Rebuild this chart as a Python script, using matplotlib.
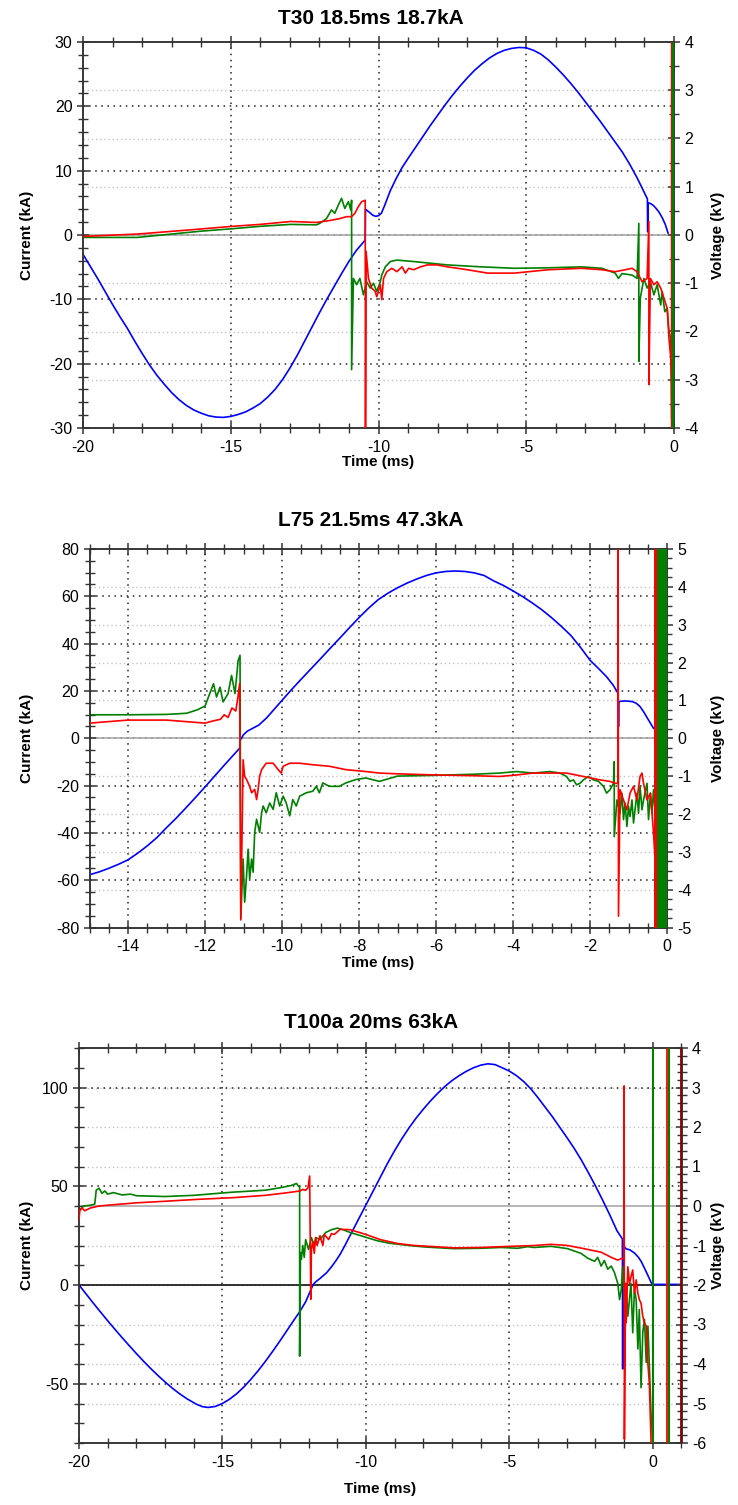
import matplotlib
matplotlib.use("Agg")
import matplotlib.pyplot as plt
from matplotlib.ticker import MultipleLocator

plt.rcParams['font.family'] = ['Liberation Sans', 'DejaVu Sans']
plt.rcParams['axes.unicode_minus'] = False

# ---------------- T30 18.5ms 18.7kA ----------------
# current (kA), left axis
t30_blue_t = [-20, -19.75, -19.5, -19.25, -19, -18.75, -18.5, -18.25, -18, -17.75, -17.5, -17.25, -17,
              -16.75, -16.5, -16.25, -16, -15.75, -15.5, -15.25, -15, -14.75, -14.5, -14.25, -14, -13.75,
              -13.5, -13.25, -13, -12.75, -12.5, -12.25, -12, -11.75, -11.5, -11.25, -11, -10.75, -10.45,
              -10.44, -10.3, -10.2, -10.1, -10.0, -9.9, -9.8, -9.6, -9.4, -9.2, -9.0, -8.75, -8.5, -8.25,
              -8, -7.75, -7.5, -7.25, -7, -6.75, -6.5, -6.25, -6, -5.75, -5.5, -5.25, -5, -4.75, -4.5,
              -4.25, -4, -3.75, -3.5, -3.25, -3, -2.75, -2.5, -2.25, -2, -1.75, -1.5, -1.25, -1.1, -0.9,
              -0.89, -0.88, -0.8, -0.7, -0.6, -0.5, -0.4, -0.3, -0.2]
t30_blue_i = [-3.0, -4.9, -6.8, -8.8, -10.8, -12.7, -14.5, -16.5, -18.4, -20.2, -21.8, -23.2, -24.5,
              -25.6, -26.5, -27.2, -27.7, -28.1, -28.3, -28.35, -28.2, -27.9, -27.5, -26.9, -26.2, -25.2,
              -24.0, -22.5, -20.7, -18.7, -16.5, -14.3, -12.1, -10.0, -8.0, -6.0, -4.1, -2.4, -0.8,
              4.0, 3.5, 3.1, 2.9, 3.0, 3.4, 4.5, 6.9, 8.8, 10.5, 11.9, 13.6, 15.3, 17.0,
              18.6, 20.2, 21.7, 23.1, 24.4, 25.6, 26.6, 27.5, 28.2, 28.7, 29.0, 29.15, 29.1, 28.7, 28.1,
              27.2, 26.1, 24.9, 23.6, 22.2, 20.7, 19.2, 17.7, 16.1, 14.5, 12.9, 11.0, 8.9, 7.5, 5.6,
              0.5, 5.0, 4.9, 4.6, 4.1, 3.5, 2.7, 1.7, 0.3]
# voltages (kV), right axis
t30_green_t = [-20, -18.15, -17, -16, -14.94, -14, -12.97, -12.1, -11.99, -11.76, -11.59, -11.48, -11.36, -11.25,
               -11.14, -11.02, -10.94, -10.91, -10.91, -10.85, -10.74, -10.63, -10.51, -10.40, -10.28, -10.17,
               -10.06, -9.94, -9.89, -9.77, -9.60, -9.38, -8.81, -7.67, -6.53, -5.40, -4.26, -3.13, -2.44,
               -1.99, -1.88, -1.76, -1.42, -1.25, -1.19, -1.19, -1.14, -1.02, -0.91, -0.80, -0.68, -0.57,
               -0.45, -0.40, -0.31, -0.23, -0.17, -0.11, -0.08, -0.03]
t30_green_v = [-0.05, -0.05, 0.02, 0.08, 0.13, 0.18, 0.22, 0.21, 0.24, 0.34, 0.52, 0.45, 0.62, 0.76,
               0.55, 0.69, 0.52, 0.72, -2.79, -0.90, -1.03, -0.90, -1.24, -0.97, -1.10, -1.00,
               -1.17, -0.97, -0.83, -0.66, -0.55, -0.52, -0.55, -0.62, -0.66, -0.69, -0.68, -0.66, -0.69,
               -0.79, -0.90, -0.80, -0.83, -0.90, 0.24, -2.62, -1.31, -0.90, -1.10, -0.97, -1.24, -1.03,
               -1.45, -1.17, -1.59, -1.52, -2.00, -2.14, -3.80, -4.00]
t30_red_t = [-20, -18.15, -16.5, -14.94, -14, -12.97, -12.1, -11.65, -11.31, -11.08, -10.91, -10.80, -10.68,
             -10.57, -10.45, -10.44, -10.42, -10.34, -10.23, -10.11, -10.06, -9.94, -9.89, -9.83, -9.72,
             -9.55, -9.38, -9.20, -9.09, -8.98, -8.81, -8.58, -8.35, -8.01, -7.67, -6.99, -6.31, -5.40,
             -4.26, -3.13, -2.44, -1.99, -1.65, -1.42, -1.25, -1.08, -0.91, -0.85, -0.85, -0.80, -0.68,
             -0.57, -0.45, -0.34, -0.23, -0.17, -0.11, -0.07]
t30_red_v = [-0.03, 0.02, 0.10, 0.18, 0.22, 0.28, 0.26, 0.30, 0.34, 0.38, 0.38, 0.45, 0.59,
             0.69, 0.72, -4.0, -0.34, -0.90, -1.10, -1.17, -1.28, -1.03, -1.34, -0.90, -0.76,
             -0.69, -0.76, -0.66, -0.79, -0.69, -0.72, -0.66, -0.62, -0.62, -0.66, -0.72, -0.79, -0.79,
             -0.72, -0.69, -0.72, -0.76, -0.72, -0.69, -0.76, -0.97, -0.90, 0.28, -3.10, -0.90, -1.03,
             -0.97, -1.10, -1.31, -1.52, -2.14, -2.55, -3.10]
t30_red_sat = [-0.07]
t30_green_sat = [-0.03]

# ---------------- L75 21.5ms 47.3kA ----------------
l75_blue_t = [-15, -14.75, -14.5, -14.25, -14, -13.75, -13.5, -13.25, -13, -12.75, -12.5, -12.25, -12,
              -11.75, -11.5, -11.25, -11.1, -11.09, -11.0, -10.9, -10.75, -10.6, -10.4, -10.2, -10, -9.75,
              -9.5, -9.25, -9, -8.75, -8.5, -8.25, -8, -7.75, -7.5, -7.25, -7, -6.75, -6.5, -6.25, -6,
              -5.75, -5.5, -5.25, -5, -4.75, -4.5, -4.25, -4, -3.75, -3.5, -3.25, -3, -2.75, -2.5, -2.25,
              -2, -1.75, -1.57, -1.4, -1.27, -1.26, -1.25, -1.1, -0.9, -0.8, -0.7, -0.6, -0.48, -0.35]
l75_blue_i = [-57.7, -56.5, -55.0, -53.3, -51.4, -48.6, -45.5, -42.0, -37.8, -33.8, -29.5, -25.1, -20.6,
              -16.0, -11.4, -6.9, -4.2, -1.0, 1.5, 3.0, 4.3, 5.6, 8.6, 12.3, 16.0, 20.6,
              25.0, 29.3, 33.6, 38.0, 42.3, 46.7, 51.0, 55.0, 58.6, 61.3, 63.6, 65.6, 67.3, 68.8, 69.9,
              70.5, 70.7, 70.5, 69.9, 68.8, 66.5, 64.6, 62.3, 59.9, 57.2, 54.3, 51.0, 47.4, 43.5, 38.5,
              33.0, 29.0, 26.0, 22.5, 19.0, 4.9, 15.5, 15.8, 15.5, 14.8, 13.4, 11.0, 7.7, 4.2]
l75_green_t = [-15, -14, -13, -12.48, -12.2, -12, -11.78, -11.70, -11.61, -11.53, -11.40, -11.31, -11.22,
               -11.14, -11.09, -11.07, -11.01, -10.97, -10.92, -10.88, -10.84, -10.79, -10.75, -10.71,
               -10.66, -10.58, -10.53, -10.49, -10.41, -10.32, -10.23, -10.15, -10.06, -9.97, -9.89, -9.80,
               -9.72, -9.63, -9.54, -9.37, -9.20, -9.11, -9.03, -8.94, -8.77, -8.51, -8.34, -8.08, -7.82,
               -7.47, -7, -6, -5, -4.35, -3.91, -3.48, -3.04, -2.78, -2.61, -2.52, -2.43, -2.35, -2.26,
               -2.17, -2.04, -1.91, -1.78, -1.65, -1.57, -1.48, -1.39, -1.37, -1.37, -1.30, -1.22, -1.17,
               -1.13, -1.09, -1.04, -1.00, -0.96, -0.91, -0.87, -0.78, -0.74, -0.70, -0.65, -0.61, -0.52,
               -0.48, -0.43, -0.39, -0.35, -0.30]
l75_green_v = [0.62, 0.62, 0.63, 0.66, 0.75, 0.85, 1.44, 1.09, 1.35, 0.96, 1.18, 1.66, 1.18,
               2.05, 2.19, -4.76, -3.19, -4.33, -3.63, -2.93, -3.72, -3.19, -3.54, -2.49,
               -2.14, -2.49, -1.97, -1.79, -1.97, -1.71, -1.88, -1.44, -1.79, -1.53, -1.71, -2.05,
               -1.62, -1.79, -1.53, -1.44, -1.40, -1.27, -1.44, -1.18, -1.27, -1.27, -1.18, -1.09, -1.05,
               -1.14, -1.00, -0.98, -0.95, -0.92, -0.88, -0.92, -0.88, -0.92, -1.01, -1.14, -1.10, -1.23, -1.19,
               -1.10, -1.01, -1.10, -1.14, -1.27, -1.45, -1.36, -1.19, -0.62, -2.60, -1.63, -1.98, -1.45,
               -2.15, -1.71, -2.33, -1.80, -2.07, -1.63, -2.24, -1.45, -1.98, -1.27, -1.89, -1.63, -1.19,
               -2.15, -1.45, -1.98, -1.36, -2.07]
l75_red_t = [-15, -14, -13, -12, -11.78, -11.6, -11.5, -11.4, -11.3, -11.2, -11.15, -11.1, -11.07,
             -11.01, -10.97, -10.92, -10.84, -10.79, -10.71, -10.66, -10.62, -10.58, -10.53, -10.41, -10.23,
             -10.10, -10.02, -9.97, -9.80, -9.54, -9.20, -8.77, -8.34, -7.91, -7.47, -7, -6, -5, -4.35,
             -3.91, -3.48, -3.04, -2.61, -2.17, -1.74, -1.48, -1.35, -1.27, -1.27, -1.26, -1.22, -1.13,
             -1.04, -0.96, -0.87, -0.78, -0.70, -0.65, -0.61, -0.52, -0.43, -0.39, -0.35, -0.30]
l75_red_v = [0.40, 0.48, 0.48, 0.40, 0.46, 0.50, 0.62, 0.55, 0.80, 0.72, 1.05, 1.45, -4.80,
             -0.57, -1.01, -1.09, -1.27, -1.44, -1.35, -1.62, -1.35, -1.00, -0.83, -0.66, -0.66,
             -0.83, -0.92, -0.74, -0.66, -0.66, -0.70, -0.74, -0.83, -0.87, -0.92, -0.94, -0.97, -0.99, -1.01,
             -0.97, -0.92, -0.92, -0.92, -1.01, -1.10, -1.14, -1.19, -1.19, 5.0, -4.70, -1.36, -1.63,
             -1.89, -1.45, -1.27, -1.63, -1.01, -0.92, -1.19, -1.63, -1.45, -1.98, -2.50, -3.40]
l75_red_sat = [-0.34, -0.25]
l75_green_sat = [-0.25, 0.0]

# ---------------- T100a 20ms 63kA ----------------
t100_blue_t = [-20, -19.75, -19.5, -19.25, -19, -18.75, -18.5, -18.25, -18, -17.75, -17.5, -17.25, -17,
               -16.75, -16.5, -16.25, -16, -15.9, -15.7, -15.5, -15.25, -15, -14.75, -14.5, -14.25, -14,
               -13.75, -13.5, -13.25, -13, -12.75, -12.5, -12.31, -12.1, -11.95, -11.84, -11.75, -11.6,
               -11.37, -11.2, -11.05, -10.9, -10.75, -10.5, -10.25, -10, -9.75, -9.5, -9.25, -9, -8.75,
               -8.5, -8.25, -8, -7.75, -7.5, -7.25, -7, -6.75, -6.5, -6.25, -6, -5.75, -5.5, -5.25, -5,
               -4.75, -4.5, -4.25, -4, -3.75, -3.5, -3.25, -3, -2.75, -2.5, -2.25, -2, -1.75, -1.5, -1.25,
               -1.06, -1.05, -1.04, -0.93, -0.8, -0.64, -0.5, -0.4, -0.3, -0.23, -0.1, -0.05, 0.0, 1.0]
t100_blue_i = [0, -4.6, -9.2, -13.7, -18.1, -22.4, -26.6, -30.7, -34.7, -38.6, -42.3, -45.8, -49.1,
               -52.2, -55.0, -57.5, -59.6, -60.4, -61.6, -62.0, -61.5, -60.0, -57.8, -55.0, -51.6, -47.6,
               -43.3, -38.6, -33.6, -28.4, -23.0, -17.6, -13.6, -8.5, -3.5, 0.2, 1.6, 3.3,
               6.2, 9.2, 12.2, 15.5, 19.5, 26.5, 33.5, 40.5, 47.5, 54.5, 61.5, 68.0, 74.0,
               79.5, 84.5, 89.0, 93.2, 97.0, 100.5, 103.5, 106.0, 108.2, 110.0, 111.3, 112.0, 111.6, 110.0, 108.3,
               106.0, 103.0, 99.3, 94.8, 90.0, 85.2, 80.0, 74.8, 69.4, 63.5, 57.0, 50.2, 43.0, 35.5, 27.5,
               23.3, -42.5, 20.0, 18.3, 17.8, 16.2, 14.0, 11.8, 8.8, 6.7, 2.6, 1.0, 0.3, 0.3]
t100_green_t = [-20, -19.95, -19.85, -19.6, -19.45, -19.4, -19.3, -19.2, -19.1, -19.0, -18.8, -18.5, -18.2,
                -18, -17.5, -17, -16, -15, -14.65, -13.5, -13, -12.6, -12.42, -12.35, -12.31, -12.31,
                -12.28, -12.25, -12.2, -12.15, -12.1, -12.0, -11.9, -11.8, -11.75, -11.6, -11.4, -11.2,
                -11.0, -10.8, -10.55, -10.1, -9.6, -9.2, -8.5, -7.9, -6.92, -6, -5.29, -4.71, -4.36,
                -4.13, -3.55, -2.97, -2.5, -2.27, -2.03, -1.92, -1.8, -1.69, -1.57, -1.45, -1.34, -1.22,
                -1.16, -1.10, -1.05, -0.99, -0.93, -0.87, -0.76, -0.70, -0.64, -0.58, -0.52, -0.47,
                -0.41, -0.35, -0.29, -0.23, -0.17, -0.12, -0.06, 0.0]
t100_green_v = [-0.05, -0.10, 0.0, 0.02, 0.05, 0.40, 0.45, 0.32, 0.38, 0.30, 0.34, 0.28, 0.30,
                0.26, 0.25, 0.24, 0.27, 0.33, 0.35, 0.40, 0.46, 0.52, 0.57, 0.50, 0.50, -3.80,
                -1.18, -1.35, -1.00, -1.30, -0.85, -1.10, -0.80, -1.00, -0.80, -0.85, -0.67, -0.60,
                -0.56, -0.60, -0.67, -0.77, -0.88, -0.94, -1.00, -1.04, -1.08, -1.07, -1.05, -1.07, -1.03,
                -1.05, -1.02, -1.08, -1.20, -1.32, -1.40, -1.30, -1.52, -1.38, -1.60, -1.52, -1.68, -1.96,
                -2.37, -2.12, -1.54, -2.46, -1.96, -2.79, -1.96, -3.21, -2.12, -2.37, -3.62, -2.62,
                -4.60, -3.21, -2.87, -3.96, -3.04, -4.04, -5.30, -6.0]
t100_red_t = [-20, -19.97, -19.9, -19.8, -19.6, -19.3, -19, -18, -17, -15.82, -14.65, -13.5, -12.7, -12.3,
              -12.2, -12.1, -12.02, -11.96, -11.92, -11.9, -11.85, -11.8, -11.75, -11.7, -11.6, -11.5,
              -11.45, -11.3, -11.2, -11.1, -10.9, -10.55, -10.0, -9.5, -8.9, -8.3, -7.6, -6.92, -6,
              -5.29, -4.13, -3.55, -2.97, -2.4, -1.8, -1.45, -1.22, -1.1, -1.0, -1.0, -0.99, -0.95,
              -0.93, -0.87, -0.81, -0.76, -0.70, -0.64, -0.58, -0.52, -0.47, -0.41, -0.35, -0.29, -0.23,
              -0.17, -0.12, -0.06]
t100_red_v = [-0.35, -0.10, -0.05, -0.12, -0.05, 0.0, 0.02, 0.08, 0.12, 0.17, 0.21, 0.27, 0.34, 0.38,
              0.42, 0.40, 0.46, 0.76, -2.36, -1.10, -0.90, -1.20, -0.80, -1.00, -0.75, -1.00,
              -0.72, -0.85, -0.70, -0.72, -0.59, -0.60, -0.72, -0.85, -0.95, -1.00, -1.03, -1.06, -1.05,
              -1.03, -1.00, -0.97, -1.00, -1.08, -1.17, -1.30, -1.37, -1.33, -1.33, 3.04, -5.90, -1.96,
              -2.96, -1.54, -1.96, -1.79, -1.62, -2.21, -1.87, -2.21, -2.37, -2.46, -2.79, -2.96, -3.04,
              -4.00, -4.50, -6.00]
t100_green_sat = [0.0, 0.55]
t100_red_sat = [0.5]
t100_edge_sat = [0.98]

BLUE = '#0000ff'
RED = '#ff0000'
GREEN = '#008000'
DARK = '#222222'
LIGHT = '#c4c4c4'

W, H = 738, 1505
fig = plt.figure(figsize=(W / 100, H / 100), dpi=100)


def make_panel(box, title, xlim, ilim, vlim, xmaj, xmin, imaj, imin, vmaj, vmin, title_y, xlabel_y,
               zero_black=False):
    left, right, top, bottom = box
    ax = fig.add_axes([left / W, 1 - bottom / H, (right - left) / W, (bottom - top) / H])
    ax2 = ax.twinx()
    ax.set_xlim(xlim)
    ax.set_ylim(ilim)
    ax2.set_ylim(vlim)
    ax.xaxis.set_major_locator(MultipleLocator(xmaj))
    ax.xaxis.set_minor_locator(MultipleLocator(xmin))
    ax.yaxis.set_major_locator(MultipleLocator(imaj))
    ax.yaxis.set_minor_locator(MultipleLocator(imin))
    ax2.yaxis.set_major_locator(MultipleLocator(vmaj))
    ax2.yaxis.set_minor_locator(MultipleLocator(vmin))

    # light dotted grid for voltage ticks, drawn in current units on the left axes
    for v in ax2.get_yticks():
        if vlim[0] < v < vlim[1] and v != 0:
            iv = ilim[0] + (v - vlim[0]) / (vlim[1] - vlim[0]) * (ilim[1] - ilim[0])
            ax.axhline(iv, color=LIGHT, lw=1.0, ls=(0, (1, 2)), zorder=0.5)
    for i in ax.get_yticks():
        if ilim[0] < i < ilim[1] and not (zero_black and i == 0):
            ax.axhline(i, color=DARK, lw=1.1, ls=(0, (1, 3)), zorder=0.6)
    for t in ax.get_xticks():
        if xlim[0] < t < xlim[1]:
            ax.axvline(t, color=DARK, lw=1.1, ls=(0, (1, 3)), zorder=0.6)
    # voltage zero line
    iz = ilim[0] + (0 - vlim[0]) / (vlim[1] - vlim[0]) * (ilim[1] - ilim[0])
    ax.axhline(iz, color='#a8a8a8', lw=1.2, zorder=0.7)
    if zero_black:
        ax.axhline(0, color='#111111', lw=1.2, zorder=0.7)

    for a in (ax, ax2):
        for s in a.spines.values():
            s.set_color('#333333')
            s.set_linewidth(1.1)
    ax.tick_params(axis='both', which='major', direction='inout', length=9, width=1.1,
                   labelsize=11.5, pad=3, color='#333333')
    ax.tick_params(axis='both', which='minor', direction='inout', length=7, width=1.0, color='#333333')
    ax.tick_params(axis='x', which='both', top=True, pad=4)
    ax2.tick_params(axis='y', which='major', direction='inout', length=9, width=1.1,
                    labelsize=11.5, pad=3, color='#333333')
    ax2.tick_params(axis='y', which='minor', direction='inout', length=7, width=1.0, color='#333333')

    cx = (left + right) / 2
    fig.text(371 / W, 1 - title_y / H, title, ha='center', va='center', fontsize=15, fontweight='bold')
    fig.text(cx / W, 1 - xlabel_y / H, 'Time (ms)', ha='center', va='center', fontsize=11, fontweight='bold')
    cy = (top + bottom) / 2
    fig.text(27 / W, 1 - cy / H, 'Current (kA)', ha='center', va='center', rotation=90,
             fontsize=11, fontweight='bold')
    fig.text(718 / W, 1 - cy / H, 'Voltage (kV)', ha='center', va='center', rotation=90,
             fontsize=11, fontweight='bold')
    return ax, ax2


# panel 1
ax, ax2 = make_panel((83, 674, 42, 428), 'T30 18.5ms 18.7kA', (-20, 0), (-30, 30), (-4, 4),
                     5, 1, 10, 2, 1, 0.5, 18, 462)
ax.plot(t30_blue_t, t30_blue_i, color=BLUE, lw=1.2, zorder=2)
ax2.plot(t30_green_t, t30_green_v, color=GREEN, lw=1.2, zorder=2)
ax2.plot(t30_red_t, t30_red_v, color=RED, lw=1.2, zorder=3)
ax2.vlines(t30_red_sat, -4, 4, color=RED, lw=2.5, zorder=3)
ax2.vlines(t30_green_sat, -4, 4, color=GREEN, lw=2.5, zorder=3)

# panel 2
ax, ax2 = make_panel((89.5, 667, 549, 927.5), 'L75 21.5ms 47.3kA', (-15, 0), (-80, 80), (-5, 5),
                     2, 0.5, 20, 5, 1, 0.25, 521, 963)
ax.plot(l75_blue_t, l75_blue_i, color=BLUE, lw=1.2, zorder=2)
ax2.plot(l75_green_t, l75_green_v, color=GREEN, lw=1.2, zorder=2)
ax2.plot(l75_red_t, l75_red_v, color=RED, lw=1.2, zorder=3)
ax2.axvspan(l75_red_sat[0], l75_red_sat[1], color=RED, lw=0, zorder=3)
ax2.axvspan(l75_green_sat[0], l75_green_sat[1], color=GREEN, lw=0, zorder=3)

# panel 3
ax, ax2 = make_panel((79, 681.5, 1048, 1443), 'T100a 20ms 63kA', (-20, 1), (-80, 120), (-6, 4),
                     5, 1, 50, 10, 1, 0.2, 1022, 1489, zero_black=True)
ax.plot(t100_blue_t, t100_blue_i, color=BLUE, lw=1.2, zorder=2)
ax2.plot(t100_green_t, t100_green_v, color=GREEN, lw=1.2, zorder=2)
ax2.plot(t100_red_t, t100_red_v, color=RED, lw=1.2, zorder=3)
ax2.vlines(t100_green_sat, -6, 4, color=GREEN, lw=1.5, zorder=3)
ax2.vlines(t100_red_sat, -6, 4, color=RED, lw=1.3, zorder=3)
ax2.vlines(t100_edge_sat, -6, 4, color='#8b0000', lw=2.0, zorder=3)

fig.savefig('out.png', dpi=100)
